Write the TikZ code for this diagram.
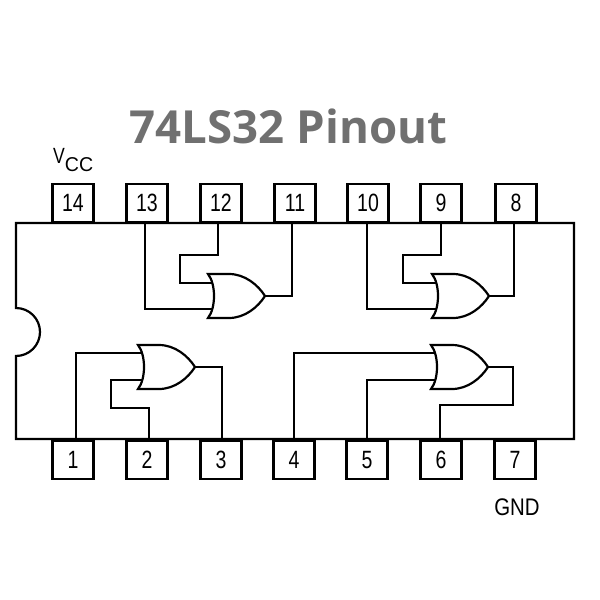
\documentclass[tikz,border=0pt]{standalone}
\usepackage{graphicx}
\usepackage{fontspec}
\setmainfont{Liberation Sans}
\newfontfamily\titlefont{Open Sans}
\definecolor{titlegray}{HTML}{707070}
\newcommand{\narrowtext}[3]{\scalebox{#1}[1]{\fontsize{#2}{#2}\selectfont #3}}
\tikzset{
  wire/.style={line width=2.2pt, line join=miter},
  pin/.style={draw, line width=2.2pt, minimum width=41pt, minimum height=38pt, inner sep=0pt, fill=white},
  pics/orgate/.style={code={
    \draw[wire, fill=white] (-57,-22) .. controls (-49,-12) and (-49,12) .. (-57,22)
      -- (-36,22) .. controls (-20,22) and (-7,11) .. (0,0)
      .. controls (-7,-11) and (-20,-22) .. (-36,-22) -- cycle;
  }},
}
\begin{document}
\begin{tikzpicture}[x=1pt,y=-1pt]
\useasboundingbox (0,0) rectangle (600,600);
\node (title) at (288.5,126) {\titlefont\bfseries\fontsize{45.6}{46}\selectfont\color{titlegray}74LS32 Pinout};
% package
\draw[wire] (16,223) -- (574,223) -- (574,439) -- (16,439) -- (16,356)
  arc[start angle=90, end angle=-90, radius=24, y=-1pt] -- cycle;
% pins
\foreach \name/\px in {14/73,13/147,12/221,11/295,10/368,9/441,8/516}
  \node[pin] (p\name) at (\px,203) {\narrowtext{.78}{25}{\name}};
\foreach \name/\px in {1/73,2/147,3/221,4/294,5/367,6/441,7/515}
  \node[pin] (p\name) at (\px,460) {\narrowtext{.78}{25}{\name}};
\node[inner sep=0pt, anchor=base west] (vcc) at (53,163) {\narrowtext{.8}{22}{V}\raisebox{-8pt}{\narrowtext{.98}{20}{CC}}};
\node[inner sep=0pt] (gnd) at (517,507) {\narrowtext{.85}{24}{GND}};
% wires
\draw[wire] (p13.south) ++(-2,0) |- (213,309) coordinate (w13);
\draw[wire] (p12.south) ++(-3,0) |- (180,255) |- (213,283) coordinate (w12);
\draw[wire] (p11.south) ++(-3,0) |- (265,296) coordinate (w11);
\draw[wire] (p10.south) ++(-1,0) |- (437,309) coordinate (w10);
\draw[wire] (p9.south) |- (403,255) |- (437,283) coordinate (w9);
\draw[wire] (p8.south) ++(-2,0) |- (489,296) coordinate (w8);
\draw[wire] (p1.north) ++(3,0) |- (144,353) coordinate (w1);
\draw[wire] (p2.north) ++(2,0) |- (111,408) |- (144,380) coordinate (w2);
\draw[wire] (p3.north) ++(1,0) |- (195,367) coordinate (w3);
\draw[wire] (p4.north) |- (437,353) coordinate (w4);
\draw[wire] (p5.north) |- (437,380) coordinate (w5);
\draw[wire] (p6.north) ++(-1,0) |- (513,405) |- (488,367) coordinate (w6);
% gates
\pic (g1) at (265,296) {orgate};
\pic (g2) at (489,296) {orgate};
\pic (g3) at (195,367) {orgate};
\pic (g4) at (488,367) {orgate};
\end{tikzpicture}
\end{document}
